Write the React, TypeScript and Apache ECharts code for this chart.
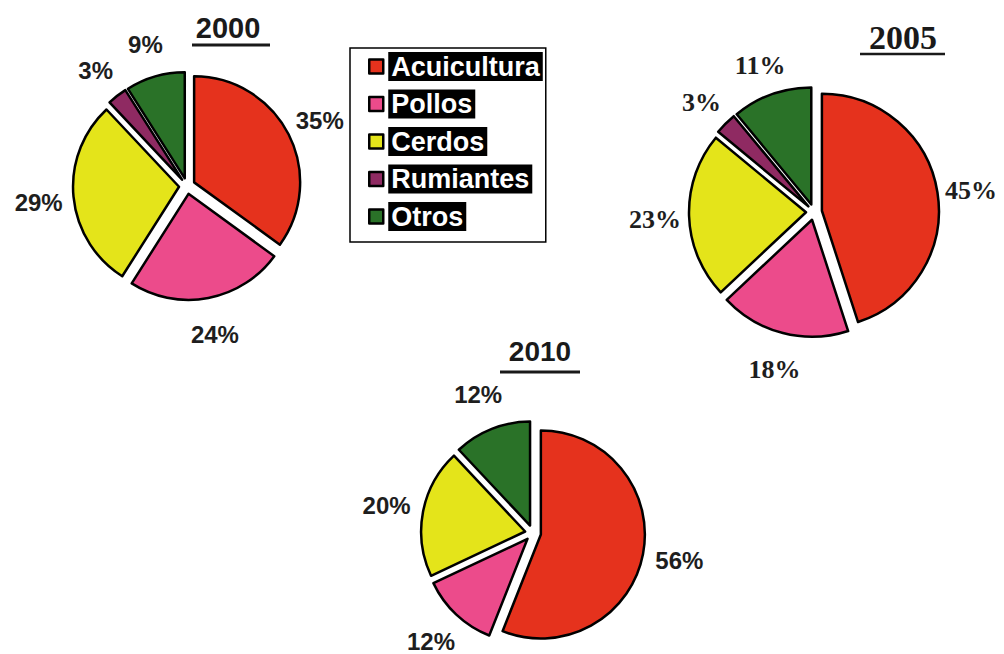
import React, { useEffect, useRef } from "react";
import * as echarts from "echarts";

const categories = ["Acuicultura", "Pollos", "Cerdos", "Rumiantes", "Otros"];
const years = ["2000", "2005", "2010"];
const values2000 = [35, 24, 29, 3, 9];
const values2005 = [45, 18, 23, 3, 11];
const values2010 = [56, 12, 20, 0, 12];
const colors = ["#e5321d", "#ec4b8b", "#e4e41a", "#8f2a62", "#2a7228"];

const SANS = "'Liberation Sans', Arial, sans-serif";
const SERIF = "'Liberation Serif', 'Times New Roman', serif";

const allValues = [values2000, values2005, values2010];
const centers: [number, number][] = [
  [187, 186],
  [814, 212],
  [533, 533],
];
const radii = [106, 117, 104];
const labelDist = [146, 156, 146];
const labelShift = [2, 3, 0];
const fonts = [SANS, SERIF, SANS];

function buildPie(idx: number) {
  const values = allValues[idx];
  return {
    type: "pie",
    name: years[idx],
    center: centers[idx],
    radius: radii[idx],
    startAngle: 90,
    clockwise: true,
    avoidLabelOverlap: false,
    selectedMode: "multiple",
    selectedOffset: 8,
    itemStyle: { borderColor: "#000", borderWidth: 2.5 },
    label: { show: false },
    labelLine: { show: false },
    emphasis: { disabled: true },
    data: values.map((v, i) => ({
      name: categories[i],
      value: v,
      selected: true,
      itemStyle: { color: colors[i], borderWidth: v === 0 ? 0 : 2.5 },
    })),
  };
}

// invisible ring whose sectors share the pie's angles; labels sit at the ring's mid radius
function buildLabels(idx: number) {
  const values = allValues[idx];
  const font = fonts[idx];
  const d = labelDist[idx];
  return {
    type: "pie",
    name: years[idx] + " labels",
    center: centers[idx],
    radius: [d - 10, d + 10],
    startAngle: 90,
    clockwise: true,
    silent: true,
    avoidLabelOverlap: false,
    selectedMode: false,
    itemStyle: { color: "rgba(0,0,0,0)", borderWidth: 0 },
    label: {
      show: true,
      position: "inside",
      formatter: "{c}%",
      color: "#1e1e1e",
      fontFamily: font,
      fontWeight: "bold",
      fontSize: font === SERIF ? 26 : 24,
      offset: [0, labelShift[idx]],
    },
    labelLine: { show: false },
    emphasis: { disabled: true },
    data: values.map((v, i) => ({
      name: categories[i],
      value: v,
      label: { show: v !== 0 },
    })),
  };
}

export default function App() {
  const ref = useRef<HTMLDivElement>(null);
  useEffect(() => {
    document.body.style.margin = "0";
    const chart = echarts.init(ref.current!, undefined, { renderer: "svg" });
    chart.setOption({
      animation: false,
      backgroundColor: "#ffffff",
      color: colors,
      legend: {
        orient: "vertical",
        left: 350,
        top: 48,
        padding: [4, 3, 11, 18],
        itemGap: 8.5,
        itemWidth: 14,
        itemHeight: 14,
        icon: "rect",
        selectedMode: false,
        backgroundColor: "#fff",
        borderColor: "#000",
        borderWidth: 1.5,
        itemStyle: { borderColor: "#000", borderWidth: 2.5 },
        data: categories.map((c, i) => ({ name: c, itemStyle: { color: colors[i] } })),
        textStyle: {
          color: "#fff",
          backgroundColor: "#000",
          fontFamily: SANS,
          fontWeight: "bold",
          fontSize: 27,
          lineHeight: 29,
          padding: [0, 3, 0, 3],
        },
      },
      graphic: [
        {
          type: "text",
          x: 228,
          y: 28,
          style: { text: years[0], font: `bold 29px ${SANS}`, fill: "#1a1a1a", textAlign: "center", textVerticalAlign: "middle" },
        },
        { type: "line", shape: { x1: 192, y1: 45, x2: 270, y2: 45 }, style: { stroke: "#1a1a1a", lineWidth: 3 } },
        {
          type: "text",
          x: 903,
          y: 37,
          style: { text: years[1], font: `bold 34px ${SERIF}`, fill: "#1a1a1a", textAlign: "center", textVerticalAlign: "middle" },
        },
        { type: "line", shape: { x1: 860, y1: 54, x2: 945, y2: 54 }, style: { stroke: "#1a1a1a", lineWidth: 2.5 } },
        {
          type: "text",
          x: 540,
          y: 351,
          style: { text: years[2], font: `bold 28px ${SANS}`, fill: "#1a1a1a", textAlign: "center", textVerticalAlign: "middle" },
        },
        { type: "line", shape: { x1: 500, y1: 372, x2: 580, y2: 372 }, style: { stroke: "#1a1a1a", lineWidth: 3 } },
      ],
      series: [buildPie(0), buildPie(1), buildPie(2), buildLabels(0), buildLabels(1), buildLabels(2)],
    });
    return () => chart.dispose();
  }, []);
  return <div ref={ref} style={{ width: 1004, height: 654 }} />;
}
